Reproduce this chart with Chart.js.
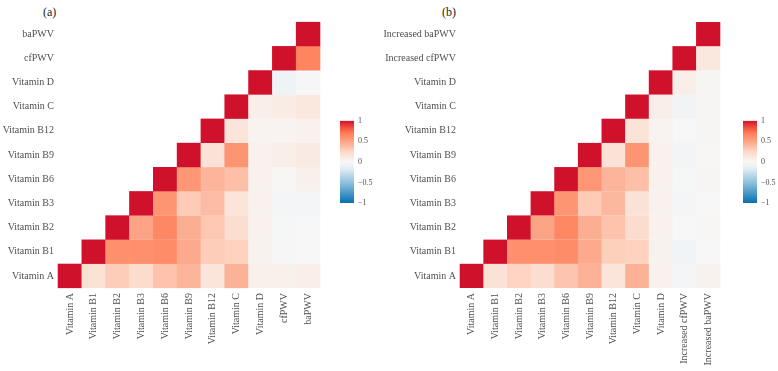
<!DOCTYPE html>
<html>
<head>
<meta charset="utf-8">
<script src="https://cdn.jsdelivr.net/npm/chart.js@4.4.1/dist/chart.umd.min.js"></script>
<style>
  body { margin: 0; background: #fff; width: 778px; height: 371px; position: relative; overflow: hidden; }
  canvas { position: absolute; }
  .tag { position: absolute; font-family: 'Liberation Serif', serif; font-size: 12px; color: #222; }
</style>
</head>
<body>
<div class="tag" style="left:43px; top:5px;">(a)</div>
<div class="tag" style="left:442px; top:5px;">(b)</div>
<canvas id="heatA" width="330" height="371" style="left:0; top:0;"></canvas>
<canvas id="barA" width="38" height="100" style="left:336px; top:112px;"></canvas>
<canvas id="heatB" width="350" height="371" style="left:380px; top:0;"></canvas>
<canvas id="barB" width="38" height="100" style="left:739px; top:112px;"></canvas>
<script>
// variable names, bottom row / left column first
const labelsA = ['Vitamin A', 'Vitamin B1', 'Vitamin B2', 'Vitamin B3', 'Vitamin B6', 'Vitamin B9',
                 'Vitamin B12', 'Vitamin C', 'Vitamin D', 'cfPWV', 'baPWV'];
const labelsB = ['Vitamin A', 'Vitamin B1', 'Vitamin B2', 'Vitamin B3', 'Vitamin B6', 'Vitamin B9',
                 'Vitamin B12', 'Vitamin C', 'Vitamin D', 'Increased cfPWV', 'Increased baPWV'];

// correlation rows: row i holds values for columns i..10
const corrA = [
  [1, 0.18, 0.30, 0.22, 0.35, 0.42, 0.15, 0.43, 0.06, 0.06, 0.08],
  [1, 0.60, 0.60, 0.62, 0.47, 0.30, 0.28, 0.04, -0.01, 0.00],
  [1, 0.50, 0.64, 0.45, 0.33, 0.20, 0.05, -0.02, 0.00],
  [1, 0.58, 0.31, 0.38, 0.15, 0.05, -0.03, -0.03],
  [1, 0.57, 0.42, 0.37, 0.05, 0.01, 0.06],
  [1, 0.17, 0.58, 0.05, 0.08, 0.10],
  [1, 0.15, 0.03, 0.03, 0.05],
  [1, 0.07, 0.09, 0.12],
  [1, -0.06, -0.01],
  [1, 0.66],
  [1]
];
const corrB = [
  [1, 0.17, 0.27, 0.20, 0.34, 0.43, 0.15, 0.43, 0.05, -0.03, 0.04],
  [1, 0.60, 0.60, 0.62, 0.47, 0.29, 0.28, 0.04, -0.05, 0.00],
  [1, 0.50, 0.64, 0.45, 0.35, 0.22, 0.05, 0.00, 0.01],
  [1, 0.58, 0.31, 0.40, 0.17, 0.05, -0.03, 0.00],
  [1, 0.57, 0.42, 0.37, 0.05, -0.02, 0.02],
  [1, 0.17, 0.58, 0.05, -0.04, 0.01],
  [1, 0.16, 0.03, 0.00, 0.02],
  [1, 0.08, -0.05, 0.02],
  [1, 0.08, 0.02],
  [1, 0.12],
  [1]
];

const cbTicks = [-1, -0.5, 0, 0.5, 1];

// colour scale stops (value -> colour)
const stopVals = [-1, -0.5, -0.15, 0, 0.25, 0.5, 0.7, 0.85, 1];
const stopCols = ['#0571b0', '#8fc2dd', '#e6eef3', '#f7f7f7', '#fdd8c6', '#fca385', '#ff7d55', '#ee4b3e', '#d0112b'];

function hexRgb(h) {
  return [parseInt(h.slice(1, 3), 16), parseInt(h.slice(3, 5), 16), parseInt(h.slice(5, 7), 16)];
}
function colour(v) {
  v = Math.max(-1, Math.min(1, v));
  for (let k = 0; k < stopVals.length - 1; k++) {
    if (v <= stopVals[k + 1]) {
      const t = (v - stopVals[k]) / (stopVals[k + 1] - stopVals[k]);
      const a = hexRgb(stopCols[k]), b = hexRgb(stopCols[k + 1]);
      const c = a.map((x, i) => Math.round(x + (b[i] - x) * t));
      return `rgb(${c[0]},${c[1]},${c[2]})`;
    }
  }
  return stopCols[stopCols.length - 1];
}

const font = { family: "'Liberation Serif', serif", size: 10 };

function heatmap(id, labels, corr, yAxisWidth) {
  const points = [];
  corr.forEach((row, i) => {
    row.forEach((v, k) => {
      points.push({ x: labels[i + k], y: labels[i], v: v });
    });
  });
  return new Chart(document.getElementById(id), {
    type: 'scatter',
    data: {
      datasets: [{
        data: points,
        pointStyle: 'rect',
        borderWidth: 0,
        clip: false,
        backgroundColor: ctx => colour(ctx.raw ? ctx.raw.v : 0),
        pointRadius: ctx => {
          const a = ctx.chart.chartArea;
          return a ? (a.width / labels.length + 0.6) * Math.SQRT1_2 : 10;
        }
      }]
    },
    options: {
      responsive: false,
      animation: false,
      events: [],
      layout: { padding: { top: 22, right: 2, left: 0, bottom: 0 } },
      plugins: { legend: { display: false }, tooltip: { enabled: false } },
      scales: {
        x: {
          type: 'category',
          labels: labels,
          offset: true,
          grid: { display: false, drawTicks: false },
          border: { display: false },
          ticks: { font: font, color: '#505050', minRotation: 90, maxRotation: 90, autoSkip: false, padding: 5 },
          afterFit: s => { s.height = 83; }
        },
        y: {
          type: 'category',
          labels: labels.slice().reverse(),
          offset: true,
          grid: { display: false, drawTicks: false },
          border: { display: false },
          ticks: { font: font, color: '#505050', autoSkip: false, padding: 4 },
          afterFit: s => { s.width = yAxisWidth; }
        }
      }
    }
  });
}

function colourBar(id) {
  return new Chart(document.getElementById(id), {
    type: 'bar',
    data: {
      labels: [''],
      datasets: [{
        data: [[-1, 1]],
        barPercentage: 1,
        categoryPercentage: 1,
        borderWidth: 0,
        backgroundColor: ctx => {
          const a = ctx.chart.chartArea;
          if (!a) return '#ccc';
          const g = ctx.chart.ctx.createLinearGradient(0, a.bottom, 0, a.top);
          for (let t = 0; t <= 40; t++) g.addColorStop(t / 40, colour(-1 + t / 20));
          return g;
        }
      }]
    },
    options: {
      responsive: false,
      animation: false,
      events: [],
      layout: { padding: { top: 8, bottom: 9, left: 4, right: 0 } },
      plugins: { legend: { display: false }, tooltip: { enabled: false } },
      scales: {
        x: { display: false },
        y: {
          position: 'right',
          min: -1,
          max: 1,
          afterBuildTicks: s => { s.ticks = cbTicks.map(v => ({ value: v })); },
          grid: { display: false, drawTicks: false },
          border: { display: false },
          ticks: {
            font: { family: "'Liberation Serif', serif", size: 8 },
            color: '#505050',
            padding: 4,
            callback: v => String(v).replace('-', '\u2212')
          },
          afterFit: s => { s.width = 20; }
        }
      }
    }
  });
}

heatmap('heatA', labelsA, corrA, 58);
colourBar('barA');
heatmap('heatB', labelsB, corrB, 80);
colourBar('barB');
</script>
</body>
</html>
